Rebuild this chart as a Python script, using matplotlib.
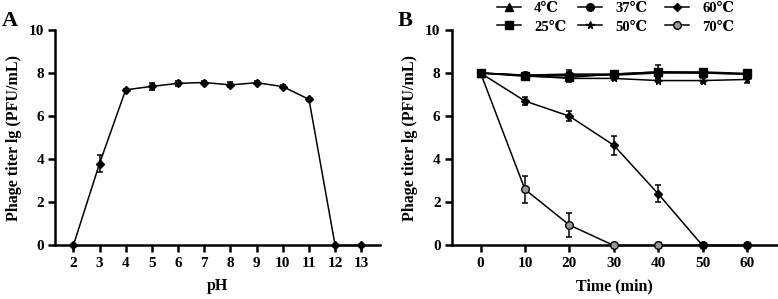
import matplotlib
matplotlib.use("Agg")
import matplotlib.pyplot as plt
from matplotlib.lines import Line2D

plt.rcParams['font.family'] = ['Liberation Serif', 'DejaVu Serif']
plt.rcParams['font.weight'] = 'bold'

# Panel A data
ph = [2, 3, 4, 5, 6, 7, 8, 9, 10, 11, 12, 13]
ph_titer = [0, 3.8, 7.22, 7.38, 7.52, 7.56, 7.45, 7.55, 7.37, 6.78, 0, 0]
ph_err = [0, 0.4, 0.06, 0.15, 0.1, 0.05, 0.12, 0.07, 0.08, 0.08, 0, 0]

# Panel B data
times = [0, 10, 20, 30, 40, 50, 60]
t4 = [8.0, 7.9, 7.95, 7.95, 8.05, 8.0, 7.95]
t4_err = [0, 0.05, 0.1, 0.05, 0.1, 0.05, 0.05]
t25 = [8.0, 7.85, 7.8, 7.95, 8.05, 8.05, 7.98]
t25_err = [0, 0.08, 0.15, 0.05, 0.3, 0.05, 0.08]
t37 = [8.0, 7.9, 7.9, 7.9, 8.0, 8.0, 7.95]
t37_err = [0, 0.05, 0.25, 0.05, 0.15, 0.05, 0.05]
t50 = [8.0, 7.88, 7.75, 7.75, 7.65, 7.65, 7.7]
t50_err = [0, 0.05, 0.15, 0.08, 0.05, 0.1, 0.18]
t60 = [8.0, 6.7, 6.0, 4.65, 2.4, 0, 0]
t60_err = [0, 0.2, 0.22, 0.45, 0.4, 0, 0]
t70 = [8.0, 2.6, 0.95, 0, 0, 0, 0]
t70_err = [0, 0.62, 0.55, 0, 0, 0, 0]
temp_labels = ['4℃', '25℃', '37℃', '50℃', '60℃', '70℃']

fig = plt.figure(figsize=(7.78, 2.99), dpi=100)
axA = fig.add_axes([0.0707, 0.179, 0.4173, 0.721])
axB = fig.add_axes([0.5806, 0.179, 0.4194, 0.721])

fs = 11

def style(ax):
    for s in ['top', 'right']:
        ax.spines[s].set_visible(False)
    for s in ['left', 'bottom']:
        ax.spines[s].set_linewidth(1.8)
    ax.tick_params(width=1.8, length=5, labelsize=fs, direction='out', pad=3)
    for lab in ax.get_xticklabels() + ax.get_yticklabels():
        lab.set_fontweight('bold')
    ax.set_ylim(0, 10)
    ax.set_yticks([0, 2, 4, 6, 8, 10])
    ax.set_ylabel('Phage titer lg (PFU/mL)', fontsize=11.5, fontweight='bold', labelpad=5)

axA.errorbar(ph, ph_titer, yerr=ph_err, color='black', lw=1.1, marker='D', ms=3.8,
             capsize=2.5, elinewidth=1.1, capthick=1.1, clip_on=False, zorder=3)
axA.set_xlim(1.3, 13.7)
axA.set_xticks(ph)
axA.set_xlabel('pH', fontsize=11.5, fontweight='bold', labelpad=6)
style(axA)

markers = {'4℃': ('^', 5.5, 'black'), '25℃': ('s', 5.5, 'black'),
           '37℃': ('o', 5.5, 'black'), '50℃': ('*', 5.5, 'black'),
           '60℃': ('D', 3.8, 'black'), '70℃': ('o', 5.5, '#9a9a9a')}
data = {'4℃': (t4, t4_err), '25℃': (t25, t25_err), '37℃': (t37, t37_err),
        '50℃': (t50, t50_err), '60℃': (t60, t60_err), '70℃': (t70, t70_err)}
draw_order = ['70℃', '4℃', '25℃', '37℃', '50℃', '60℃']
for name in draw_order:
    vals, err = data[name]
    mk, ms, mfc = markers[name]
    axB.errorbar(times, vals, yerr=err, color='black', lw=1.1, marker=mk, ms=ms,
                 mfc=mfc, mec='black', capsize=2.5, elinewidth=1.1, capthick=1.1,
                 clip_on=False, zorder=3)
axB.set_xlim(-6.5, 67)
axB.set_xticks(times)
axB.set_xlabel('Time (min)', fontsize=11.5, fontweight='bold', labelpad=6)
style(axB)

# legend: three columns of two entries
col_x = [497, 578, 665]
for i, x in enumerate(col_x):
    names = temp_labels[2 * i:2 * i + 2]
    hs = [Line2D([], [], color='black', lw=1.1, marker=markers[n][0],
                 ms=markers[n][1], mfc=markers[n][2], mec='black') for n in names]
    fig.legend(hs, names, loc='upper left', bbox_to_anchor=(x / 778, 1.0 - 2 / 299),
               frameon=False, handlelength=1.65, handletextpad=0.9,
               labelspacing=0.35, borderpad=0.0, borderaxespad=0.0,
               prop={'weight': 'bold', 'size': 10.5})

fig.text(2 / 778, 1 - 26 / 299, 'A', fontsize=16, fontweight='bold')
fig.text(398 / 778, 1 - 26 / 299, 'B', fontsize=16, fontweight='bold')

fig.savefig('out.png', dpi=100)
